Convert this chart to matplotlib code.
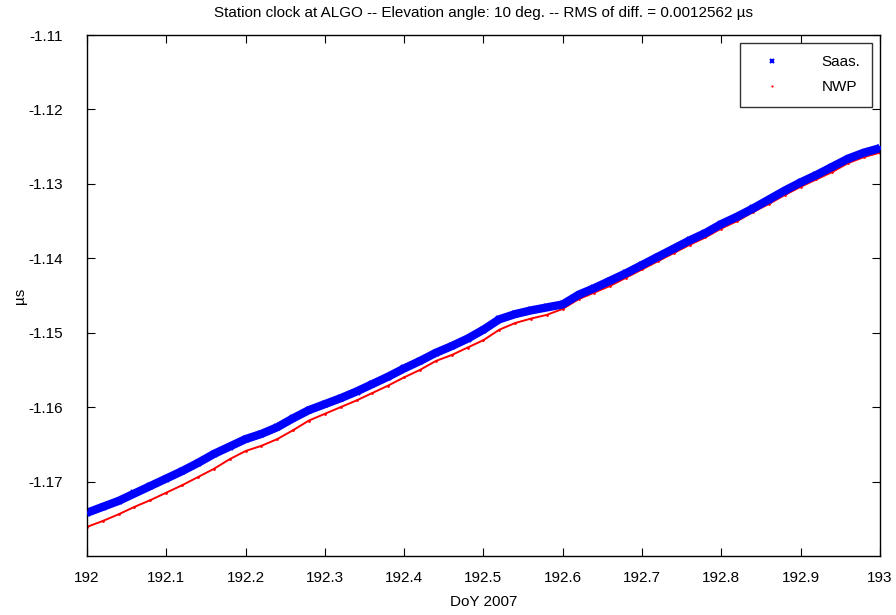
import numpy as np
import matplotlib
matplotlib.use('Agg')
import matplotlib.pyplot as plt

plt.rcParams['font.family'] = ['Liberation Sans', 'DejaVu Sans']
plt.rcParams['axes.unicode_minus'] = False

# day of year samples
doy = [192.00, 192.02, 192.04, 192.06, 192.08, 192.10, 192.12, 192.14, 192.16, 192.18,
       192.20, 192.22, 192.24, 192.26, 192.28, 192.30, 192.32, 192.34, 192.36, 192.38,
       192.40, 192.42, 192.44, 192.46, 192.48, 192.50, 192.52, 192.54, 192.56, 192.58,
       192.60, 192.62, 192.64, 192.66, 192.68, 192.70, 192.72, 192.74, 192.76, 192.78,
       192.80, 192.82, 192.84, 192.86, 192.88, 192.90, 192.92, 192.94, 192.96, 192.98,
       193.00]

saas = [-1.1742, -1.1734, -1.1726, -1.1716, -1.1706, -1.1696, -1.1686, -1.1675, -1.1663, -1.1653,
        -1.1643, -1.1636, -1.1627, -1.1615, -1.1604, -1.1596, -1.1588, -1.1579, -1.1569, -1.1559,
        -1.1548, -1.1538, -1.1527, -1.1518, -1.1508, -1.1496, -1.1482, -1.1475, -1.1470, -1.1466,
        -1.1462, -1.1449, -1.1440, -1.1430, -1.1420, -1.1409, -1.1398, -1.1387, -1.1376, -1.1366,
        -1.1354, -1.1344, -1.1333, -1.1321, -1.1309, -1.1298, -1.1288, -1.1277, -1.1266, -1.1258,
        -1.1252]

nwp = [-1.1761, -1.1753, -1.1744, -1.1734, -1.1725, -1.1715, -1.1705, -1.1694, -1.1683, -1.1670,
       -1.1659, -1.1652, -1.1643, -1.1631, -1.1618, -1.1609, -1.1600, -1.1591, -1.1581, -1.1571,
       -1.1560, -1.1550, -1.1538, -1.1530, -1.1520, -1.1510, -1.1496, -1.1487, -1.1481, -1.1476,
       -1.1468, -1.1455, -1.1446, -1.1437, -1.1426, -1.1415, -1.1404, -1.1393, -1.1382, -1.1372,
       -1.1360, -1.1350, -1.1338, -1.1327, -1.1315, -1.1304, -1.1294, -1.1284, -1.1272, -1.1264,
       -1.1258]

xticks = [192, 192.1, 192.2, 192.3, 192.4, 192.5, 192.6, 192.7, 192.8, 192.9, 193]
xticklabels = ['192', '192.1', '192.2', '192.3', '192.4', '192.5', '192.6', '192.7', '192.8', '192.9', '193']
yticks = [-1.17, -1.16, -1.15, -1.14, -1.13, -1.12, -1.11]

fig = plt.figure(figsize=(8.96, 6.15), dpi=100)
ax = fig.add_axes([0.097, 0.096, 0.885, 0.847])

# thick band for the Saas. series, thin trace for NWP
ax.plot(doy, saas, color='blue', lw=6, solid_capstyle='butt', zorder=2)
ax.plot(doy, saas, 'x', color='blue', ms=5, mew=1.5, label='Saas.', zorder=3)
ax.plot(doy, nwp, color='red', lw=1.4, zorder=1)
ax.plot(doy, nwp, '.', color='red', ms=2, label='NWP', zorder=1)

ax.set_xlim(192, 193)
ax.set_ylim(-1.18, -1.11)
ax.set_xticks(xticks)
ax.set_xticklabels(xticklabels)
ax.set_yticks(yticks)
ax.set_yticklabels(['%.2f' % v for v in yticks])
ax.tick_params(direction='in', length=6, width=0.8, top=True, right=True, labelsize=11)
ax.tick_params(axis='x', pad=11)
ax.tick_params(axis='y', pad=17)
for s in ax.spines.values():
    s.set_linewidth(1.0)

ax.set_title('Station clock at ALGO -- Elevation angle: 10 deg. -- RMS of diff. = 0.0012562 \u00b5s',
             fontsize=11, pad=13)
ax.set_xlabel('DoY 2007', fontsize=11, labelpad=7)
ax.set_ylabel('\u00b5s', fontsize=11, labelpad=1)

leg = ax.legend(loc='upper right', fontsize=11, frameon=True, fancybox=False,
                edgecolor='black', borderpad=0.8, handletextpad=2.0, handlelength=2.5,
                labelspacing=0.75, borderaxespad=0.5, markerscale=0.6)
leg.get_frame().set_linewidth(1.0)

fig.savefig('out.png', dpi=100)
